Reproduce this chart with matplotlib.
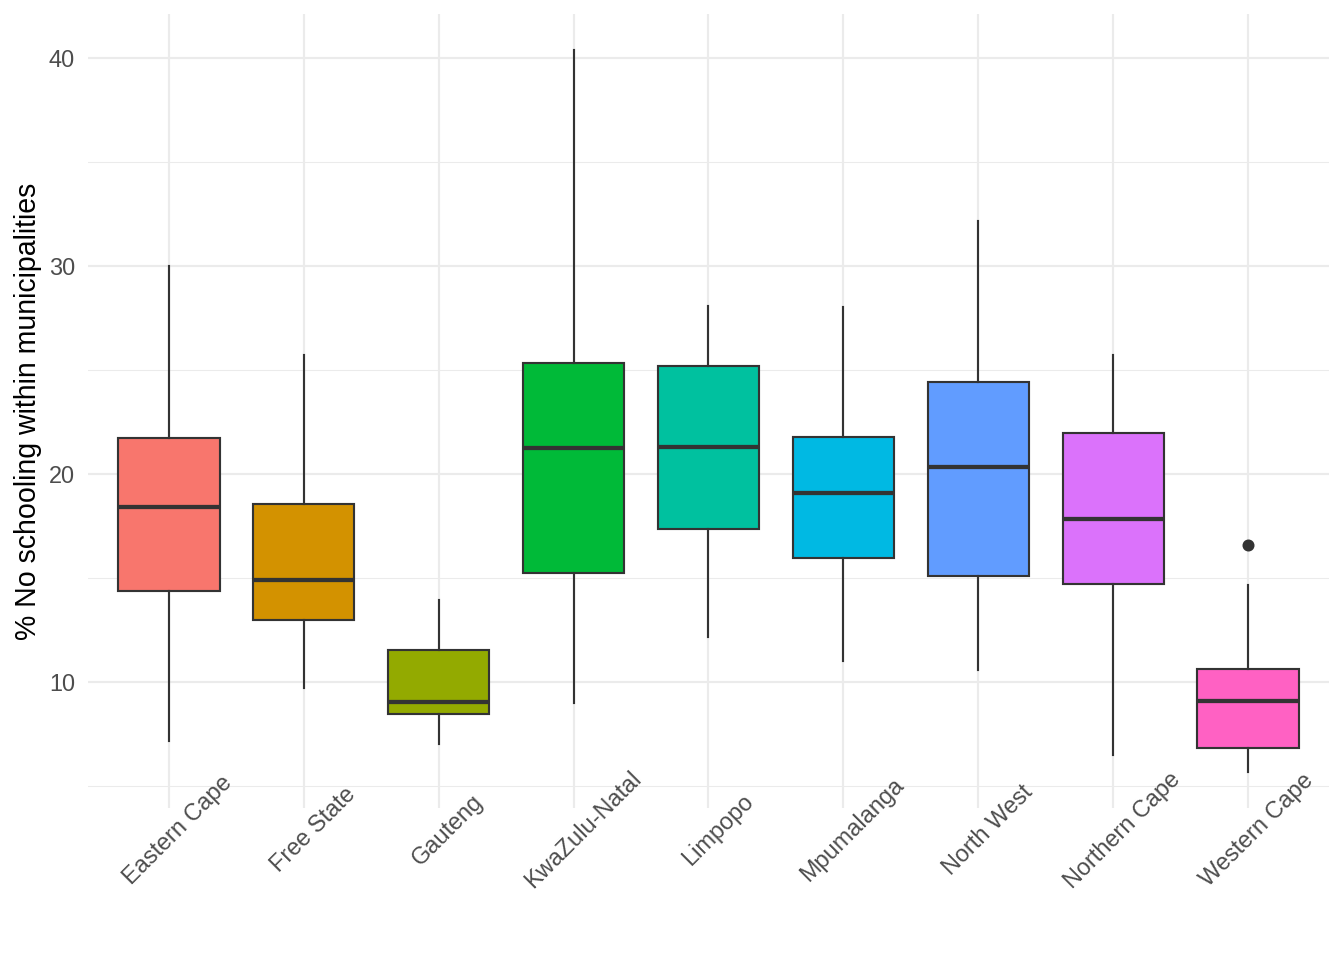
import matplotlib
matplotlib.use("Agg")
import matplotlib.pyplot as plt

provinces = ["Eastern Cape", "Free State", "Gauteng", "KwaZulu-Natal", "Limpopo",
             "Mpumalanga", "North West", "Northern Cape", "Western Cape"]
whisker_low = [7.16, 9.71, 7.02, 8.99, 12.16, 11.01, 10.58, 6.49, 5.67]
q1 = [14.37, 12.98, 8.46, 15.24, 17.36, 15.96, 15.10, 14.71, 6.83]
median = [18.41, 14.90, 9.04, 21.25, 21.30, 19.09, 20.34, 17.84, 9.09]
q3 = [21.73, 18.56, 11.54, 25.34, 25.19, 21.78, 24.42, 21.97, 10.62]
whisker_high = [30.0, 25.72, 13.94, 40.38, 28.08, 28.03, 32.16, 25.72, 14.66]
outliers = [[], [], [], [], [], [], [], [], [16.59]]
colors = ["#F8766D", "#D39200", "#93AA00", "#00BA38", "#00C19F",
          "#00B9E3", "#619CFF", "#DB72FB", "#FF61C3"]

plt.rcParams['font.family'] = ['Liberation Sans', 'DejaVu Sans']

fig = plt.figure(figsize=(7, 5), dpi=192)
ax = fig.add_axes([0.0655, 0.1583, 0.9233, 0.8271])

stats = []
for i, name in enumerate(provinces):
    stats.append(dict(label=name, whislo=whisker_low[i], q1=q1[i], med=median[i],
                      q3=q3[i], whishi=whisker_high[i], fliers=outliers[i]))

dark = "#333333"
positions = list(range(1, len(provinces) + 1))
bp = ax.bxp(stats, positions=positions, widths=0.75,
            patch_artist=True, showcaps=False,
            boxprops=dict(edgecolor=dark, linewidth=0.8),
            whiskerprops=dict(color=dark, linewidth=0.8),
            medianprops=dict(color=dark, linewidth=1.6, solid_capstyle="butt"),
            flierprops=dict(marker="o", markerfacecolor=dark, markeredgecolor=dark,
                            markersize=3.5))
for patch, c in zip(bp["boxes"], colors):
    patch.set_facecolor(c)
for art in bp["boxes"] + bp["whiskers"] + bp["medians"] + bp["fliers"]:
    art.set_zorder(3)

lo = min(whisker_low)
hi = max(max(whisker_high), max(max(o) for o in outliers if o))
pad = (hi - lo) * 0.05
ax.set_ylim(lo - pad, hi + pad)
ax.set_xlim(0.4, len(provinces) + 0.6)

ax.set_yticks([10, 20, 30, 40])
ax.set_yticks([5, 15, 25, 35], minor=True)
ax.grid(True, which="major", color="#EBEBEB", linewidth=0.8, zorder=0)
ax.grid(True, which="minor", axis="y", color="#EBEBEB", linewidth=0.4, zorder=0)
ax.set_axisbelow(True)
for s in ax.spines.values():
    s.set_visible(False)

ax.tick_params(axis="both", which="both", length=0, labelcolor="#4D4D4D", labelsize=8.8)
ax.tick_params(axis="y", pad=4.9)
ax.set_xticks(positions)
ax.set_xticklabels([])

# rotated category labels, centred a little below each tick
for p, name in zip(positions, provinces):
    ax.annotate(name, xy=(p, 0), xycoords=ax.get_xaxis_transform(),
                xytext=(3.4, -8.25), textcoords="offset points",
                rotation=45, ha="center", va="center", rotation_mode="anchor",
                fontsize=8.8, color="#4D4D4D", annotation_clip=False, clip_on=False)

ax.set_ylabel("% No schooling within municipalities", fontsize=10.7, color="black", labelpad=2.5)

fig.savefig("out.png", dpi=192)
